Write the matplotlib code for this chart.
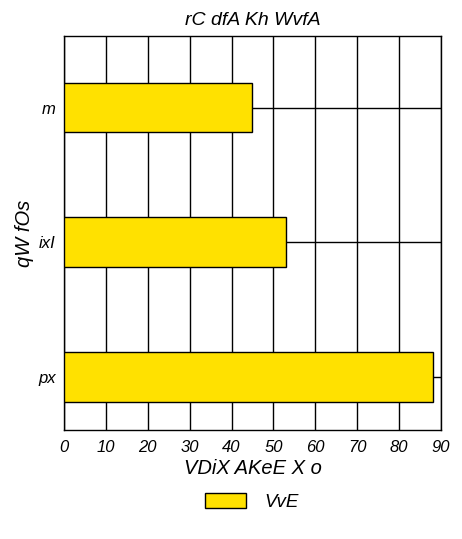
import matplotlib
matplotlib.use("Agg")
import matplotlib.pyplot as plt
from matplotlib.patches import Patch

categories = ["px", "ixI", "m"]
values = [88, 53, 45]
series_name = "VvE"
xticks = [0, 10, 20, 30, 40, 50, 60, 70, 80, 90]

plt.rcParams["font.family"] = ["Liberation Sans", "DejaVu Sans"]
plt.rcParams["font.style"] = "italic"

fig = plt.figure(figsize=(4.62, 5.39), dpi=100)
ax = fig.add_axes([0.1385, 0.2022, 0.816, 0.731])

ypos = list(range(len(categories)))
ax.barh(ypos, values, height=0.37, color="#FFE100", edgecolor="black", linewidth=1, zorder=3)

ax.set_xlim(0, 90)
ax.set_ylim(-0.39, 2.53)
ax.set_xticks(xticks)
ax.set_xticklabels([str(t) for t in xticks], fontsize=12)
ax.set_yticks(ypos)
ax.set_yticklabels(categories, fontsize=12)
ax.tick_params(axis="x", length=0, pad=7)
ax.tick_params(axis="y", length=0, pad=6)
ax.grid(True, color="black", linewidth=1, zorder=0)
for s in ax.spines.values():
    s.set_linewidth(1)

ax.set_title("rC dfA Kh WvfA", fontsize=14, pad=8)
ax.set_xlabel("VDiX AKeE X o", fontsize=14.5, labelpad=3)
ax.set_ylabel("qW fOs", fontsize=14.5, labelpad=3)

fig.legend(handles=[Patch(facecolor="#FFE100", edgecolor="black", label=series_name)],
           loc="center", bbox_to_anchor=(0.545, 0.069), frameon=False, fontsize=13.5,
           handlelength=2.2, handleheight=0.9, handletextpad=1.0)

fig.savefig("out.png", dpi=100)
